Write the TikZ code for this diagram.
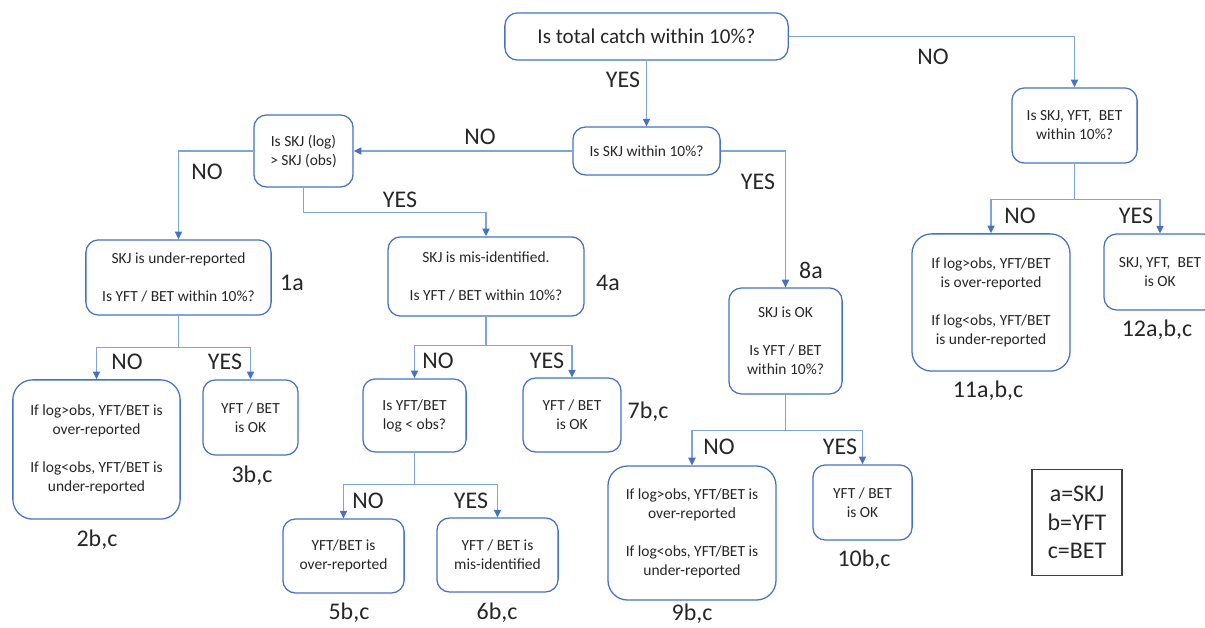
\documentclass[tikz,border=0pt]{standalone}
\usepackage{fontspec}
\setmainfont{Carlito}
\usetikzlibrary{arrows.meta, positioning}

\definecolor{boxblue}{HTML}{4472C4}
\definecolor{lineblue}{HTML}{7EA3DE}
\definecolor{txtgray}{HTML}{262626}

\begin{document}
\begin{tikzpicture}[
    x=0.025cm, y=-0.025cm,
    box/.style={rectangle, draw=boxblue, line width=0.9pt, rounded corners=9pt, align=center,
                font=\fontsize{11}{13.5}\selectfont, text=txtgray, inner sep=2pt},
    bigbox/.style={box, rounded corners=14pt},
    lnk/.style={lineblue, line width=0.8pt},
    arr/.style={lnk, -{Triangle[length=1.9mm, width=1.8mm, color=boxblue]}},
    lbl/.style={font=\fontsize{17}{19}\selectfont, text=txtgray, inner sep=1pt}
]
\useasboundingbox (0,0) rectangle (1205,628);

% Questions
\node[box, font=\fontsize{15}{18}\selectfont, minimum width=7.08cm, minimum height=1.18cm] (total) at (646.5,36.5) {Is total catch within 10\%?};
\node[box, minimum width=3.68cm, minimum height=1.2cm] (skj)    at (646.5,151) {Is SKJ within 10\%?};
\node[box, minimum width=2.48cm, minimum height=1.8cm] (logobs) at (303.5,151) {Is SKJ (log)\\> SKJ (obs)};
\node[box, minimum width=3.13cm, minimum height=1.88cm] (all3)  at (1074.5,125.5) {Is SKJ, YFT, \ BET\\within 10\%?};

% Second level
\node[box, minimum width=4.63cm, minimum height=1.88cm] (under) at (178.5,277.5) {SKJ is under-reported\\[13.5pt]Is YFT / BET within 10\%?};
\node[box, minimum width=4.9cm, minimum height=1.98cm]  (misid) at (486,276.5) {SKJ is mis-identified.\\[13.5pt]Is YFT / BET within 10\%?};
\node[box, minimum width=2.83cm, minimum height=2.65cm] (skjok) at (785.5,341) {SKJ is OK\\[13.5pt]Is YFT / BET\\within 10\%?};
\node[bigbox, minimum width=3.95cm, minimum height=3.43cm] (box11) at (991,302.5) {If log>obs, YFT/BET\\is over-reported\\[13.5pt]If log<obs, YFT/BET\\is under-reported};
\node[box, minimum width=2.8cm, minimum height=1.9cm] (box12) at (1160,272) {SKJ, YFT, \ BET\\is OK};

% Third level
\node[bigbox, minimum width=4.18cm, minimum height=3.48cm] (box2) at (96.5,449.5) {If log>obs, YFT/BET is\\over-reported\\[13.5pt]If log<obs, YFT/BET is\\under-reported};
\node[box, minimum width=2.38cm, minimum height=1.88cm] (box3)    at (250.5,417.5) {YFT / BET\\is OK};
\node[box, minimum width=2.58cm, minimum height=1.83cm] (logless) at (414.5,415.5) {Is YFT/BET\\log < obs?};
\node[box, minimum width=2.45cm, minimum height=1.85cm] (box7)    at (572,415) {YFT / BET\\is OK};
\node[bigbox, minimum width=4.2cm, minimum height=3.35cm] (box9)  at (692,533) {If log>obs, YFT/BET is\\over-reported\\[13.5pt]If log<obs, YFT/BET is\\under-reported};
\node[box, minimum width=2.48cm, minimum height=1.88cm] (box10)   at (862.5,502.5) {YFT / BET\\is OK};

% Fourth level
\node[box, minimum width=3.03cm, minimum height=1.85cm] (box5) at (343.5,556) {YFT/BET is\\over-reported};
\node[box, minimum width=3.03cm, minimum height=1.85cm] (box6) at (497.5,555) {YFT / BET is\\mis-identified};

% Key
\node[draw=black!75, line width=0.8pt, minimum width=2.25cm, minimum height=2.63cm, align=center,
      font=\fontsize{17}{20.5}\selectfont, text=txtgray] (key) at (1077,522.5) {a=SKJ\\b=YFT\\c=BET};

% Main arrows
\draw[arr] (total) -- (skj);
\draw[arr] (total.east) -| (all3.north);
\draw[arr] (skj.west) -- (logobs.east);
\draw[arr] (skj.east) -| (skjok.north);
\draw[arr] (logobs.west) -| (under.north);
\draw[arr] (logobs.south) -- ++(0,25) -| (misid.north);

% Branches
\draw[lnk] (under.south) -- ++(0,32) coordinate (fork1);
\draw[arr] (fork1) -| (box2.north);
\draw[arr] (fork1) -| (box3.north);
\draw[lnk] (misid.south) -- ++(0,29) coordinate (fork4);
\draw[arr] (fork4) -| (logless.north);
\draw[arr] (fork4) -| (box7.north);
\draw[lnk] (logless.south) -- ++(0,32) coordinate (fork5);
\draw[arr] (fork5) -| (box5.north);
\draw[arr] (fork5) -| (box6.north);
\draw[lnk] (skjok.south) -- ++(0,36) coordinate (fork8);
\draw[arr] (fork8) -| (box9.north);
\draw[arr] (fork8) -| (box10.north);
\draw[lnk] (all3.south) -- ++(0,36) coordinate (fork11);
\draw[arr] (fork11) -| (box11.north);
\draw[arr] (fork11) -| (box12.north);

% YES / NO labels
\node[lbl] (yesA) at (623,80)   {YES};
\node[lbl] (noA)  at (933,57)   {NO};
\node[lbl] (noB)  at (480,137)  {NO};
\node[lbl] (yesB) at (758,182)  {YES};
\node[lbl] (noC)  at (207,172)  {NO};
\node[lbl] (yesC) at (400,200)  {YES};
\node[lbl] (noD)  at (127,362)  {NO};
\node[lbl] (yesD) at (225,362)  {YES};
\node[lbl] (noE)  at (438,361)  {NO};
\node[lbl] (yesE) at (547,361)  {YES};
\node[lbl] (noF)  at (368,501)  {NO};
\node[lbl] (yesF) at (471,501)  {YES};
\node[lbl] (noG)  at (719,447)  {NO};
\node[lbl] (yesG) at (840,447)  {YES};
\node[lbl] (noH)  at (1020,216) {NO};
\node[lbl] (yesH) at (1136,216) {YES};

% Case numbers
\node[lbl] (n1)  at (292,283)  {1a};
\node[lbl] (n2)  at (97,540)   {2b,c};
\node[lbl] (n3)  at (252,476)  {3b,c};
\node[lbl] (n4)  at (608,283)  {4a};
\node[lbl] (n5)  at (349,613)  {5b,c};
\node[lbl] (n6)  at (497,613)  {6b,c};
\node[lbl] (n7)  at (648,412)  {7b,c};
\node[lbl] (n8)  at (811,270)  {8a};
\node[lbl] (n9)  at (692,614)  {9b,c};
\node[lbl] (n10) at (864,560)  {10b,c};
\node[lbl] (n11) at (988,391)  {11a,b,c};
\node[lbl] (n12) at (1157,330) {12a,b,c};
\end{tikzpicture}
\end{document}
